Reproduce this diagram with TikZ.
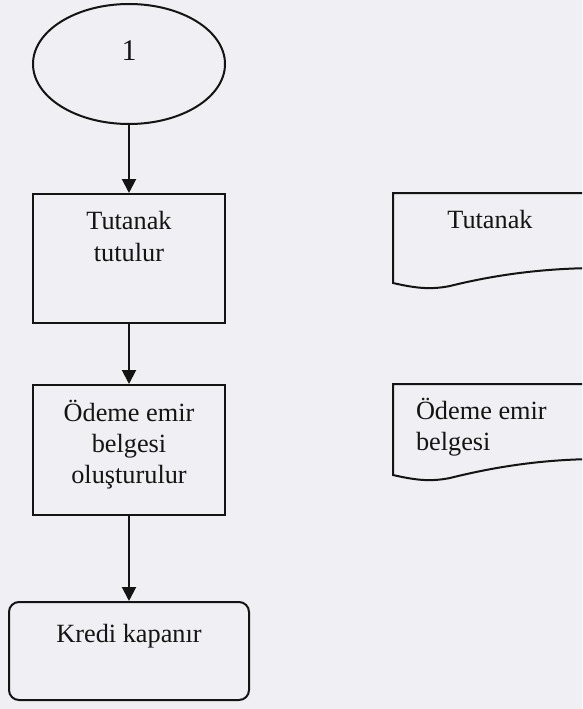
\documentclass[tikz,border=0pt]{standalone}
\usepackage{fontspec}
\setmainfont{Liberation Serif}
\usetikzlibrary{arrows.meta,shapes.geometric}
\definecolor{paper}{RGB}{239,239,244}
\definecolor{ink}{RGB}{20,20,20}
\begin{document}
\begin{tikzpicture}[x=1pt,y=-1pt,line width=2pt,draw=ink,
  txt/.style={font=\fontsize{26.3}{31}\selectfont,text=ink,inner sep=0pt},
  procbox/.style={draw,rectangle,inner sep=0pt},
  arr/.style={-{Triangle[length=14pt,width=14pt]}}]
\fill[paper] (0,0) rectangle (582,709);
\useasboundingbox (0,0) rectangle (582,709);
\clip (0,0) rectangle (582,709);
% connector ellipse
\node[draw,ellipse,minimum width=192pt,minimum height=120pt,inner sep=0pt] (start) at (129,64) {};
\node[txt,anchor=base,font=\fontsize{30}{32}\selectfont] (startlbl) at (129,60) {1};
% process boxes
\node[procbox,minimum width=192pt,minimum height=129pt] (b1) at (129,258.5) {};
\node[txt,align=center,font=\fontsize{26.3}{32}\selectfont] (b1t) at (129,237) {Tutanak\\tutulur};
\node[procbox,minimum width=192pt,minimum height=130pt] (b2) at (129,450) {};
\node[txt,align=center] (b2t) at (129,445) {Ödeme emir\\belgesi\\oluşturulur};
\node[procbox,rounded corners=10pt,minimum width=240pt,minimum height=98pt] (b3) at (129,651) {};
\node[txt,anchor=base] (b3t) at (129,642) {Kredi kapanır};
% arrows
\draw[arr] (start.south) -- (b1.north);
\draw[arr] (b1.south) -- (b2.north);
\draw[arr] (b2.south) -- (b3.north);
% documents
\draw (600,193) -- (393,193) -- (393,283)
  .. controls (415,288) and (430,290) .. (450,286)
  .. controls (490,276) and (540,268) .. (600,268);
\node[txt,anchor=base] (d1t) at (490,228) {Tutanak};
\draw (600,384) -- (393,384) -- (393,475)
  .. controls (415,480) and (430,482) .. (450,478)
  .. controls (490,468) and (540,459) .. (600,459);
\node[txt,align=left,anchor=west] (d2t) at (415,427) {Ödeme emir\\belgesi};
\end{tikzpicture}
\end{document}
